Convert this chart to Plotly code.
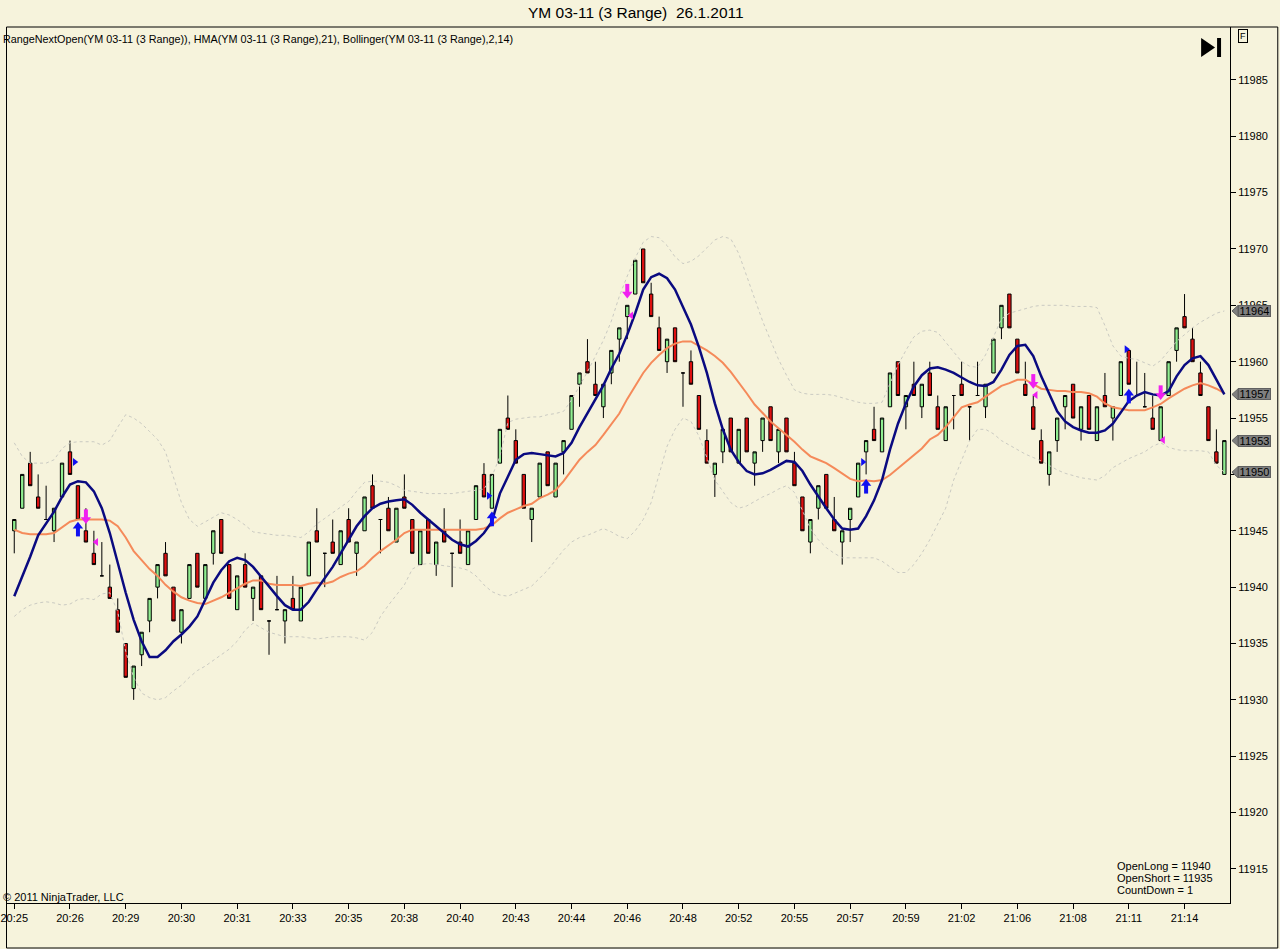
import plotly.graph_objects as go

# ---- range bars (YM 03-11, 3 range) ----
opens = [11945, 11947, 11951, 11948, 11946, 11945, 11948, 11952, 11949, 11945,
         11943, 11941, 11940, 11938, 11935, 11931, 11934, 11937, 11940, 11943,
         11940, 11936, 11939, 11943, 11939, 11943, 11946, 11942, 11938, 11942,
         11939, 11941, 11937, 11938, 11937, 11939, 11937, 11941, 11945, 11943,
         11944, 11942, 11946, 11943, 11945, 11949, 11946, 11947, 11944, 11948,
         11946, 11942, 11946, 11942, 11945, 11943, 11944, 11942, 11946, 11950,
         11947, 11951, 11955, 11953, 11950, 11946, 11948, 11952, 11948, 11952,
         11954, 11958, 11960, 11958, 11956, 11959, 11962, 11964, 11966, 11970,
         11966, 11963, 11960, 11963, 11959, 11960, 11957, 11953, 11950, 11952,
         11955, 11951, 11955, 11951, 11953, 11956, 11952, 11955, 11951, 11948,
         11944, 11947, 11950, 11946, 11944, 11946, 11948, 11952, 11954, 11952,
         11956, 11960, 11956, 11958, 11956, 11959, 11956, 11953, 11957, 11958,
         11956, 11957, 11956, 11959, 11963, 11966, 11962, 11958, 11956, 11953,
         11950, 11953, 11956, 11958, 11954, 11957, 11953, 11957, 11955, 11957,
         11961, 11957, 11956, 11955, 11953, 11957, 11961, 11964, 11962, 11959,
         11956, 11952, 11950]
highs = [11946, 11950, 11952, 11950, 11949, 11947, 11951, 11953, 11949, 11947,
         11945, 11944, 11942, 11939, 11935, 11933, 11936, 11939, 11942, 11944,
         11940, 11938, 11942, 11943, 11942, 11945, 11946, 11942, 11941, 11943,
         11940, 11941, 11937, 11941, 11938, 11941, 11940, 11944, 11947, 11943,
         11946, 11945, 11947, 11944, 11948, 11950, 11946, 11948, 11947, 11950,
         11946, 11945, 11946, 11944, 11947, 11943, 11946, 11945, 11949, 11951,
         11950, 11954, 11957, 11954, 11950, 11947, 11951, 11952, 11951, 11953,
         11957, 11959, 11962, 11960, 11958, 11961, 11963, 11965, 11969, 11970,
         11967, 11964, 11962, 11963, 11959, 11961, 11957, 11954, 11951, 11954,
         11955, 11954, 11955, 11952, 11955, 11956, 11954, 11955, 11952, 11948,
         11946, 11949, 11950, 11948, 11945, 11947, 11951, 11953, 11956, 11955,
         11959, 11960, 11957, 11960, 11958, 11960, 11957, 11956, 11957, 11960,
         11956, 11960, 11958, 11962, 11965, 11966, 11962, 11960, 11957, 11954,
         11952, 11955, 11957, 11958, 11956, 11957, 11956, 11959, 11956, 11960,
         11961, 11960, 11959, 11957, 11956, 11960, 11963, 11966, 11963, 11960,
         11956, 11954, 11953]
lows = [11943, 11947, 11949, 11947, 11946, 11944, 11948, 11950, 11946, 11944,
        11942, 11941, 11939, 11936, 11932, 11930, 11933, 11936, 11939, 11941,
        11937, 11935, 11939, 11940, 11939, 11942, 11943, 11939, 11938, 11940,
        11937, 11938, 11934, 11938, 11935, 11938, 11937, 11941, 11944, 11940,
        11943, 11942, 11944, 11941, 11945, 11947, 11943, 11945, 11944, 11947,
        11943, 11942, 11943, 11941, 11944, 11940, 11943, 11942, 11946, 11948,
        11947, 11951, 11954, 11951, 11947, 11944, 11948, 11949, 11948, 11950,
        11954, 11956, 11959, 11957, 11955, 11958, 11960, 11962, 11966, 11967,
        11964, 11961, 11959, 11960, 11956, 11958, 11954, 11951, 11948, 11951,
        11952, 11951, 11952, 11949, 11952, 11953, 11951, 11952, 11949, 11945,
        11943, 11946, 11947, 11945, 11942, 11944, 11948, 11950, 11953, 11952,
        11956, 11957, 11954, 11957, 11955, 11957, 11954, 11953, 11954, 11957,
        11953, 11957, 11955, 11959, 11962, 11963, 11959, 11957, 11954, 11951,
        11949, 11952, 11954, 11955, 11953, 11954, 11953, 11956, 11953, 11957,
        11958, 11957, 11956, 11954, 11953, 11957, 11960, 11963, 11960, 11957,
        11953, 11951, 11950]
closes = [11946, 11950, 11949, 11947, 11946, 11947, 11951, 11950, 11946, 11944,
          11942, 11941, 11939, 11936, 11932, 11933, 11936, 11939, 11942, 11941,
          11937, 11938, 11942, 11940, 11942, 11945, 11943, 11939, 11941, 11940,
          11940, 11938, 11937, 11938, 11938, 11938, 11940, 11944, 11944, 11943,
          11943, 11945, 11944, 11944, 11948, 11947, 11946, 11945, 11947, 11947,
          11943, 11945, 11943, 11944, 11944, 11943, 11943, 11945, 11949, 11948,
          11950, 11954, 11954, 11951, 11947, 11947, 11951, 11949, 11951, 11953,
          11957, 11959, 11959, 11957, 11958, 11961, 11963, 11965, 11969, 11967,
          11964, 11961, 11962, 11960, 11959, 11958, 11954, 11951, 11951, 11954,
          11952, 11954, 11952, 11952, 11955, 11953, 11954, 11952, 11949, 11945,
          11946, 11949, 11947, 11945, 11945, 11947, 11951, 11953, 11953, 11955,
          11959, 11957, 11957, 11957, 11958, 11957, 11954, 11956, 11957, 11957,
          11956, 11957, 11958, 11962, 11965, 11963, 11959, 11957, 11954, 11951,
          11952, 11955, 11957, 11955, 11956, 11954, 11956, 11956, 11956, 11960,
          11958, 11957, 11956, 11954, 11956, 11960, 11963, 11963, 11960, 11957,
          11953, 11951, 11953]

# ---- indicators ----
hma = [11939.2, 11940.9, 11942.7, 11944.6, 11945.7, 11946.7, 11948.0, 11949.1, 11949.4, 11949.3,
       11948.5, 11947.0, 11944.8, 11942.1, 11939.5, 11937.1, 11935.2, 11933.8, 11933.8, 11934.4,
       11935.2, 11935.8, 11936.5, 11937.4, 11938.9, 11940.4, 11941.5, 11942.3, 11942.6, 11942.4,
       11941.8, 11940.9, 11940.0, 11939.2, 11938.4, 11938.0, 11938.0, 11938.7, 11939.8, 11940.8,
       11941.8, 11943.0, 11944.2, 11945.4, 11946.3, 11947.0, 11947.4, 11947.6, 11947.7, 11947.8,
       11947.3, 11946.6, 11946.0, 11945.4, 11944.8, 11944.2, 11943.8, 11943.6, 11944.1, 11944.8,
       11945.8, 11948.3, 11949.8, 11951.3, 11951.8, 11951.9, 11951.8, 11951.7, 11951.6, 11951.9,
       11952.8, 11954.2, 11955.4, 11956.6, 11957.9, 11959.4, 11960.7, 11962.4, 11964.3, 11966.4,
       11967.5, 11967.8, 11967.4, 11966.4, 11964.9, 11963.3, 11961.3, 11959.0, 11956.3, 11954.0,
       11952.2, 11951.1, 11950.3, 11950.0, 11950.1, 11950.4, 11950.8, 11951.2, 11951.1, 11950.3,
       11949.1, 11948.0, 11947.0, 11946.0, 11945.2, 11945.1, 11945.2, 11946.3, 11947.7, 11949.5,
       11952.2, 11954.5, 11956.3, 11957.8, 11958.8, 11959.4, 11959.5, 11959.3, 11959.0, 11958.6,
       11958.2, 11957.9, 11957.85, 11958.2, 11959.3, 11960.6, 11961.4, 11961.5, 11960.5, 11958.7,
       11957.1, 11955.6, 11954.7, 11954.2, 11953.9, 11953.7, 11953.7, 11953.9, 11954.5, 11955.5,
       11956.5, 11957.0, 11957.3, 11957.1, 11957.0, 11957.4, 11958.7, 11959.7, 11960.3, 11960.5,
       11959.7, 11958.4, 11957.1]
bb_mid = [11945.1, 11944.8, 11944.7, 11944.7, 11944.7, 11944.8, 11945.3, 11945.8, 11946.0, 11946.0,
          11946.0, 11946.0, 11945.9, 11945.4, 11944.4, 11943.2, 11942.4, 11941.6, 11941.0, 11940.2,
          11939.6, 11939.1, 11938.8, 11938.6, 11938.5, 11938.8, 11939.1, 11939.5, 11939.9, 11940.3,
          11940.6, 11940.6, 11940.3, 11940.2, 11940.2, 11940.2, 11940.1, 11940.3, 11940.4, 11940.3,
          11940.5, 11940.9, 11941.2, 11941.4, 11941.9, 11942.6, 11943.2, 11943.7, 11944.2, 11944.8,
          11945.1, 11945.1, 11945.1, 11945.1, 11945.1, 11945.1, 11945.1, 11945.1, 11945.1, 11945.2,
          11945.5, 11946.1, 11946.6, 11946.9, 11947.2, 11947.4, 11947.9, 11948.2, 11948.6, 11949.4,
          11950.4, 11951.3, 11952.0, 11952.6, 11953.5, 11954.4, 11955.4, 11956.7, 11957.9, 11959.0,
          11959.9, 11960.6, 11961.2, 11961.6, 11961.8, 11961.8, 11961.4, 11961.0, 11960.5, 11959.9,
          11959.1, 11958.2, 11957.2, 11956.2, 11955.4, 11954.7, 11954.1, 11953.5, 11952.9, 11952.2,
          11951.6, 11951.3, 11951.0, 11950.55, 11950.1, 11949.6, 11949.4, 11949.45, 11949.4, 11949.5,
          11949.95, 11950.55, 11951.1, 11951.7, 11952.3, 11953.1, 11953.5, 11954.2, 11955.1, 11955.95,
          11956.2, 11956.4, 11956.9, 11957.4, 11957.85, 11958.1, 11958.4, 11958.4, 11958.0, 11957.6,
          11957.5, 11957.4, 11957.4, 11957.3, 11957.3, 11957.2, 11956.9, 11956.3, 11955.95, 11955.8,
          11955.7, 11955.7, 11955.7, 11955.95, 11956.25, 11956.75, 11957.2, 11957.6, 11957.9, 11958.1,
          11957.9, 11957.6, 11957.2]
bb_upper = [11952.8, 11951.6, 11951.0, 11951.0, 11951.0, 11951.3, 11952.3, 11952.8, 11952.9, 11952.9,
            11952.9, 11952.6, 11953.0, 11954.2, 11955.3, 11955.0, 11954.5, 11953.8, 11953.1, 11952.0,
            11949.8, 11947.5, 11946.0, 11945.4, 11945.8, 11946.2, 11946.6, 11946.4, 11946.0, 11945.5,
            11944.9, 11944.8, 11944.7, 11944.6, 11944.6, 11944.5, 11944.4, 11944.9, 11945.6, 11946.1,
            11946.6, 11947.1, 11947.6, 11948.5, 11949.3, 11949.4, 11949.4, 11949.3, 11949.0, 11948.6,
            11948.5, 11948.4, 11948.3, 11948.3, 11948.3, 11948.3, 11948.4, 11948.5, 11948.6, 11948.7,
            11949.8, 11951.6, 11954.6, 11954.9, 11955.0, 11955.1, 11955.1, 11955.3, 11955.4, 11955.6,
            11956.6, 11957.8, 11959.1, 11960.5, 11961.9, 11963.6, 11965.8, 11967.6, 11969.2, 11970.6,
            11971.1, 11971.0, 11970.3, 11969.3, 11968.7, 11968.9, 11969.4, 11970.1, 11970.8, 11971.1,
            11970.9, 11969.6, 11967.6, 11965.5, 11963.6, 11961.9, 11960.2, 11958.8, 11957.5, 11957.2,
            11957.1, 11957.1, 11957.1, 11957.0, 11956.8, 11956.6, 11956.4, 11956.3, 11956.3, 11956.4,
            11958.0, 11959.7, 11961.0, 11962.2, 11962.7, 11962.8, 11962.6, 11961.7, 11960.8, 11960.0,
            11959.6, 11959.5, 11960.6, 11962.2, 11963.8, 11964.3, 11964.5, 11964.7, 11964.9, 11965.0,
            11965.0, 11965.0, 11965.0, 11964.9, 11964.9, 11964.9, 11964.8, 11963.2, 11961.4, 11960.5,
            11960.3, 11960.2, 11959.9, 11959.6, 11960.1, 11960.9, 11961.8, 11962.4, 11963.0, 11963.5,
            11963.9, 11964.3, 11964.5]
bb_lower = [11937.4, 11938.0, 11938.4, 11938.6, 11938.7, 11938.6, 11938.4, 11938.5, 11938.9, 11939.0,
            11938.9, 11939.4, 11939.5, 11937.8, 11934.3, 11932.0, 11930.6, 11930.2, 11930.0, 11930.2,
            11930.8, 11931.3, 11932.0, 11932.6, 11933.0, 11933.5, 11934.0, 11934.5, 11935.2, 11936.2,
            11936.8, 11936.4, 11936.0, 11935.8, 11935.6, 11935.6, 11935.6, 11935.5, 11935.4, 11935.5,
            11935.6, 11935.6, 11935.6, 11935.5, 11935.3, 11936.0, 11937.4, 11938.4, 11939.3, 11940.2,
            11941.6, 11942.0, 11942.1, 11942.0, 11941.9, 11941.8, 11941.7, 11941.5, 11941.0, 11940.2,
            11939.6, 11939.3, 11939.2, 11939.5, 11939.8, 11940.1, 11940.8, 11941.5, 11942.4, 11943.3,
            11944.0, 11944.4, 11944.6, 11944.9, 11945.2, 11944.9, 11944.5, 11944.3, 11945.0, 11946.0,
            11947.5, 11950.0, 11952.5, 11954.0, 11955.0, 11954.7, 11953.4, 11951.5, 11949.5, 11948.5,
            11947.5, 11947.0, 11947.2, 11947.6, 11948.0, 11948.3, 11948.7, 11949.0, 11948.4, 11946.8,
            11945.2, 11944.2, 11943.5, 11943.0, 11942.6, 11942.6, 11942.6, 11942.6, 11942.6, 11942.3,
            11941.8, 11941.3, 11941.3, 11942.0, 11943.0, 11944.2, 11945.6, 11947.0, 11949.5, 11951.2,
            11953.0, 11954.0, 11954.0, 11953.6, 11953.0, 11952.6, 11952.2, 11951.8, 11951.5, 11951.2,
            11950.8, 11950.4, 11950.1, 11949.9, 11949.7, 11949.6, 11949.5, 11949.9, 11950.6, 11951.0,
            11951.4, 11951.7, 11952.0, 11952.5, 11952.8, 11952.4, 11952.2, 11952.1, 11952.1, 11952.1,
            11952.0, 11950.8, 11950.2]

# signal markers (bar index, price)
long_arrow_bar = [8, 60, 107, 140]
long_arrow_px = [11945.1, 11946.0, 11948.9, 11956.9]
short_arrow_bar = [9, 77, 128, 144]
short_arrow_px = [11946.3, 11966.3, 11958.3, 11957.3]
long_tri_bar = [7.6, 59.6, 106.6, 139.7]
long_tri_px = [11951.1, 11948.1, 11951.1, 11961.1]
short_tri_bar = [10.3, 77.5, 128.3, 144.3]
short_tri_px = [11944.0, 11964.1, 11957.05, 11953.06]

time_labels = ["20:25", "20:26", "20:29", "20:30", "20:31", "20:33", "20:35", "20:38",
               "20:40", "20:43", "20:44", "20:46", "20:48", "20:52", "20:55", "20:57",
               "20:59", "21:02", "21:06", "21:08", "21:11", "21:14"]
tick_bars = list(range(0, 7 * len(time_labels), 7))

bars = list(range(len(closes)))

BG = "#F6F3DC"
FONT = "Liberation Sans, Arial, sans-serif"


def px(x):
    # screen pixel -> paper x
    return (x - 1) / 1229


def py(y):
    # screen pixel -> paper y
    return (903 - y) / 876


fig = go.Figure()

band_line = dict(color="#CACAC2", width=1, dash="dot")
fig.add_trace(go.Scatter(x=bars, y=bb_upper, mode="lines", line=band_line, hoverinfo="skip"))
fig.add_trace(go.Scatter(x=bars, y=bb_lower, mode="lines", line=band_line, hoverinfo="skip"))

fig.add_trace(go.Candlestick(
    x=bars, open=opens, high=highs, low=lows, close=closes,
    increasing=dict(fillcolor="#90EE90", line=dict(color="black", width=1)),
    decreasing=dict(fillcolor="#DD1010", line=dict(color="black", width=1)),
    whiskerwidth=0, hoverinfo="skip",
))

fig.add_trace(go.Scatter(x=bars, y=bb_mid, mode="lines",
                         line=dict(color="#F58A5A", width=2), hoverinfo="skip"))
fig.add_trace(go.Scatter(x=bars, y=hma, mode="lines",
                         line=dict(color="#0A0A80", width=2.5), hoverinfo="skip"))

# arrows: triangle head + thick error-bar shaft
fig.add_trace(go.Scatter(
    x=long_arrow_bar, y=[v + 0.3 for v in long_arrow_px], mode="markers",
    marker=dict(symbol="triangle-up", size=9, color="#1010F0"),
    error_y=dict(type="data", array=[0] * 4, arrayminus=[0.9] * 4,
                 color="#1010F0", thickness=4, width=0),
    hoverinfo="skip"))
fig.add_trace(go.Scatter(
    x=short_arrow_bar, y=[v - 0.3 for v in short_arrow_px], mode="markers",
    marker=dict(symbol="triangle-down", size=9, color="#F020F0"),
    error_y=dict(type="data", array=[0.9] * 4, arrayminus=[0] * 4,
                 color="#F020F0", thickness=4, width=0),
    hoverinfo="skip"))
fig.add_trace(go.Scatter(x=long_tri_bar, y=long_tri_px, mode="markers",
                         marker=dict(symbol="triangle-right", size=7, color="#1010F0"),
                         hoverinfo="skip"))
fig.add_trace(go.Scatter(x=short_tri_bar, y=short_tri_px, mode="markers",
                         marker=dict(symbol="triangle-left", size=7, color="#F020F0"),
                         hoverinfo="skip"))

annotations = [
    dict(text="YM 03-11 (3 Range) \u00a026.1.2011", x=px(633), y=py(12),
         font=dict(size=15.5, color="black")),
    dict(text="RangeNextOpen(YM 03-11 (3 Range)), HMA(YM 03-11 (3 Range),21), "
              "Bollinger(YM 03-11 (3 Range),2,14)",
         x=px(-5), y=py(39), xanchor="left", font=dict(size=10.8, color="black")),
    dict(text="\u00a9 2011 NinjaTrader, LLC", x=px(-5), y=py(897), xanchor="left",
         font=dict(size=11, color="black")),
    dict(text="OpenLong = 11940", x=px(1114), y=py(866), xanchor="left",
         font=dict(size=11, color="black")),
    dict(text="OpenShort = 11935", x=px(1114), y=py(878), xanchor="left",
         font=dict(size=11, color="black")),
    dict(text="CountDown = 1", x=px(1114), y=py(890), xanchor="left",
         font=dict(size=11, color="black")),
    dict(text="F", x=px(1248.5), y=py(35.5), font=dict(size=9, color="black"),
         bordercolor="black", borderwidth=1, borderpad=1),
]
for a in annotations:
    a.setdefault("xref", "paper")
    a.setdefault("yref", "paper")
    a.setdefault("showarrow", False)
    a.setdefault("yanchor", "middle")

shapes = [
    # outer frame
    dict(type="rect", xref="paper", yref="paper", x0=px(0.5), x1=px(1278), y0=py(948), y1=1,
         line=dict(color="black", width=1)),
    # go-to-end button
    dict(type="path", xref="paper", yref="paper",
         path=f"M {px(1201)},{py(38)} L {px(1215)},{py(47.5)} L {px(1201)},{py(57)} Z",
         fillcolor="black", line=dict(width=0)),
    dict(type="rect", xref="paper", yref="paper", x0=px(1217), x1=px(1221), y0=py(57), y1=py(38),
         fillcolor="black", line=dict(width=0)),
]

# last-value price markers on the right axis
last_vals = [bb_upper[-1], hma[-1], closes[-1], bb_lower[-1]]
for v in last_vals:
    h = 5.5 / 11.273
    shapes.append(dict(
        type="path", xref="paper", yref="y",
        path=f"M {px(1232)},{v} L {px(1238)},{v + h} L {px(1238)},{v - h} Z",
        fillcolor="#808080", line=dict(color="#606060", width=1)))
    annotations.append(dict(
        text=str(round(v)), xref="paper", yref="y", x=px(1238), y=v,
        xanchor="left", yanchor="middle", showarrow=False,
        font=dict(size=11, color="black"), bgcolor="#808080",
        bordercolor="#606060", borderwidth=1, borderpad=0, width=31, height=10))

fig.update_layout(
    width=1280, height=949, autosize=False,
    margin=dict(l=1, r=50, t=27, b=46),
    paper_bgcolor=BG, plot_bgcolor=BG,
    font=dict(family=FONT, size=11, color="black"),
    showlegend=False, hovermode=False,
    boxgap=0.4,
    annotations=annotations, shapes=shapes,
)
fig.update_xaxes(
    range=[-0.9125, 152.71], rangeslider=dict(visible=False),
    tickvals=tick_bars, ticktext=time_labels, ticklabeloverflow="allow",
    showgrid=False, zeroline=False, showline=True, linecolor="black", linewidth=1,
    ticks="outside", ticklen=5, tickcolor="black", tickfont=dict(size=11),
)
fig.update_yaxes(
    side="right", range=[11911.98, 11989.69], dtick=5, tick0=11915, tickformat="d",
    showgrid=False, zeroline=False, showline=True, linecolor="black", linewidth=1,
    ticks="outside", ticklen=5, tickcolor="black", tickfont=dict(size=11),
)

fig.write_html("out.html", config={"displayModeBar": False},
               post_script="document.body.style.margin='0';")
